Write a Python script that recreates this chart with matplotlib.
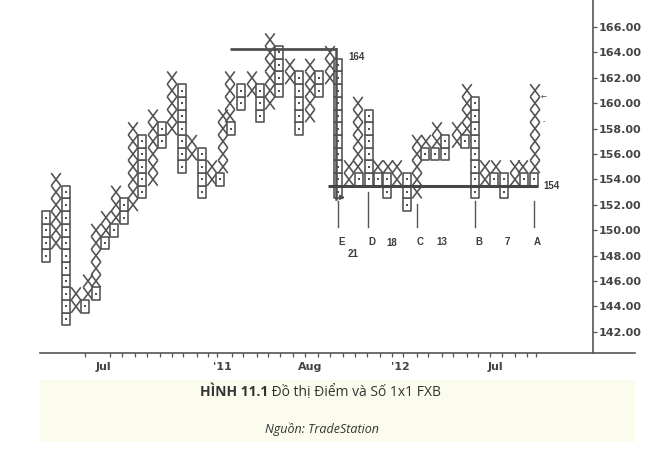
import matplotlib
matplotlib.use("Agg")
import matplotlib.pyplot as plt
from matplotlib.patches import Rectangle
from matplotlib.collections import LineCollection, PatchCollection

# ---- data: point & figure columns (time position, type, low box, high box) ----
col_pos = [46, 56, 66, 76, 85, 88, 96, 96, 105, 106, 114, 116, 124, 133, 142, 153,
           162, 172, 182, 192, 202, 212, 220, 223, 231, 230, 241, 252, 260, 270, 279,
           290, 299, 310, 319, 330, 338, 349, 359, 358, 369, 378, 378, 388, 387, 397,
           407, 417, 425, 426, 435, 437, 445, 457, 465, 467, 475, 485, 494, 496, 504,
           515, 524, 523, 534, 535]
col_type = list("OX" * 33)
col_low = [148, 149, 143, 144, 144, 145, 145, 146, 149, 150, 150, 151, 151, 152, 153, 154,
           157, 158, 155, 156, 153, 154, 154, 155, 158, 159, 160, 161, 159, 160, 161,
           162, 158, 159, 161, 162, 153, 154, 154, 155, 154, 155, 154, 155, 153, 154,
           152, 153, 156, 157, 156, 157, 156, 157, 157, 158, 153, 154, 154, 155, 153,
           154, 154, 155, 154, 155]
col_high = [151, 154, 153, 145, 144, 146, 145, 150, 149, 151, 150, 153, 152, 158, 157, 159,
            158, 162, 161, 157, 156, 155, 154, 159, 158, 162, 161, 162, 161, 165, 164,
            163, 162, 163, 162, 164, 163, 155, 154, 160, 159, 155, 154, 155, 154, 155,
            154, 157, 156, 157, 156, 158, 157, 158, 157, 161, 160, 155, 154, 155, 154,
            155, 154, 155, 154, 161]

y_ticks = [142, 144, 146, 148, 150, 152, 154, 156, 158, 160, 162, 164, 166]
month_labels = ["Jul", "'11", "Aug", "'12", "Jul"]
month_pos = [103, 222, 310, 400, 495]
minor_tick_pos = [85, 110, 122, 135, 147, 160, 172, 183, 197, 208, 217, 232, 243, 257,
                  268, 280, 293, 305, 318, 330, 343, 355, 367, 380, 392, 403, 417, 428,
                  442, 453, 467, 478, 490, 502, 515, 527, 536]

resistance = 164
support = 154
marker_names = ["E", "D", "C", "B", "A"]
marker_pos = [338, 368, 417, 475, 534]
count_names = ["21", "18", "13", "7"]
count_pos = [353, 392, 442, 507]

# ---- figure ----
W, H = 662, 450
fig = plt.figure(figsize=(W / 100, H / 100), dpi=100)
fig.patch.set_facecolor("white")

ax_left_px, ax_right_px, ax_bottom_px = 40, 635, 353
ax = fig.add_axes([ax_left_px / W, 1 - ax_bottom_px / H,
                   (ax_right_px - ax_left_px) / W, ax_bottom_px / H])
px_per_box = 12.7
y_top_val = 166 + 27 / px_per_box
y_bot_val = 166 - (ax_bottom_px - 27) / px_per_box
ax.set_xlim(ax_left_px, ax_right_px)
ax.set_ylim(y_bot_val, y_top_val)
ax.set_facecolor("none")

ink = "#505050"
txt = "#3c3c3c"

# draw X and O marks
xw, ow = 9.6, 8.4
x_segs = []
o_rects = []
dots_x, dots_y = [], []
for p, t, lo, hi in zip(col_pos, col_type, col_low, col_high):
    for v in range(lo, hi + 1):
        if t == "X":
            x_segs.append([(p - xw / 2, v - 0.5), (p + xw / 2, v + 0.5)])
            x_segs.append([(p - xw / 2, v + 0.5), (p + xw / 2, v - 0.5)])
        else:
            o_rects.append(Rectangle((p - ow / 2, v - 0.5), ow, 1.0))
            dots_x.append(p)
            dots_y.append(v)

ax.add_collection(LineCollection(x_segs, colors=ink, linewidths=1.15, zorder=3))
ax.add_collection(PatchCollection(o_rects, facecolor="white", edgecolor=ink,
                                  linewidth=1.15, zorder=3))
ax.scatter(dots_x, dots_y, s=1.6, marker="s", color=ink, zorder=4, linewidths=0)

# resistance line at 164 and drop
ax.plot([230, 337], [resistance + 0.24, resistance + 0.24], color="#505050", lw=2.0,
        zorder=5, solid_capstyle="butt")
ax.plot([336, 336], [resistance + 0.24, 152.45], color="#505050", lw=1.8, zorder=5)
ax.annotate("", xy=(348, 152.55), xytext=(337, 152.6),
            arrowprops=dict(arrowstyle="-|>", color="#505050", lw=1.4,
                            mutation_scale=6), zorder=5)
ax.text(348, resistance - 0.35, str(resistance), fontsize=7, fontweight="bold",
        color=txt, family="Liberation Sans", va="center", ha="left")

# support line at 154
ax.plot([328, 538], [support - 0.55, support - 0.55], color="#454545", lw=2.2,
        zorder=5, solid_capstyle="butt")
ax.text(543, support - 0.5, str(support), fontsize=7, fontweight="bold",
        color=txt, family="Liberation Sans", va="center", ha="left")

# vertical markers and their labels
marker_top = [152.3, 153.0, 152.1, 152.3, 152.3]
for name, p, top in zip(marker_names, marker_pos, marker_top):
    ax.plot([p, p], [top, 150.25], color="#555555", lw=1.0)
    ax.text(p + 3.5, 149.1, name, fontsize=7, fontweight="bold", color=txt,
            family="Liberation Sans", ha="center", va="center")
count_y = [148.1, 149.0, 149.05, 149.05]
for name, p, yy in zip(count_names, count_pos, count_y):
    ax.text(p, yy, name, fontsize=7, fontweight="bold", color=txt,
            family="Liberation Sans", ha="center", va="center")

ax.text(541, 160.45, "\u2190", fontsize=5, color=txt, ha="left", va="center")
ax.text(543, 158.6, "-", fontsize=5, color=txt, ha="left", va="center")

# axes styling
for s in ["top", "left"]:
    ax.spines[s].set_visible(False)
ax.spines["right"].set_position(("data", 593))
ax.spines["right"].set_color("#555555")
ax.spines["right"].set_linewidth(1.2)
ax.spines["bottom"].set_color("#555555")
ax.spines["bottom"].set_linewidth(1.2)

ax.yaxis.tick_right()
ax.set_yticks(y_ticks)
ax.set_yticklabels([f"{v:.2f}" for v in y_ticks])
ax.tick_params(axis="y", direction="out", length=3, width=0.9, color="#555555",
               pad=1, labelsize=8, labelcolor="#444444")
for lab in ax.get_yticklabels():
    lab.set_fontweight("bold")

ax.set_xticks(minor_tick_pos)
ax.set_xticklabels([])
ax.tick_params(axis="x", direction="out", length=3, width=0.9, color="#555555")
for lab, p in zip(month_labels, month_pos):
    ax.text(p, -14 / ax_bottom_px, lab, transform=ax.get_xaxis_transform(),
            fontsize=8, fontweight="bold", color="#444444", ha="center", va="center")

# caption band
fig.patches.append(Rectangle((40 / W, 1 - 442 / H), 595 / W, 62 / H,
                             transform=fig.transFigure, facecolor="#fcfcee",
                             edgecolor="none", zorder=0))
fam = ["Open Sans", "Noto Sans", "DejaVu Sans"]
t1 = fig.text(200 / W, 1 - 392 / H, "HÌNH 11.1", fontsize=10, fontweight="bold",
              family=fam, color="#333333", ha="left", va="center")
fig.add_artist(plt.Annotation(" Đồ thị Điểm và Số 1x1 FXB", xy=(1, 0.5),
                              xycoords=t1, ha="left", va="center", fontsize=10,
                              family=fam, color="#333333"))
fig.text(322 / W, 1 - 429 / H, "Nguồn: TradeStation", fontsize=9, style="italic",
         family=fam, color="#333333", ha="center", va="center")

fig.savefig("out.png", dpi=100)
